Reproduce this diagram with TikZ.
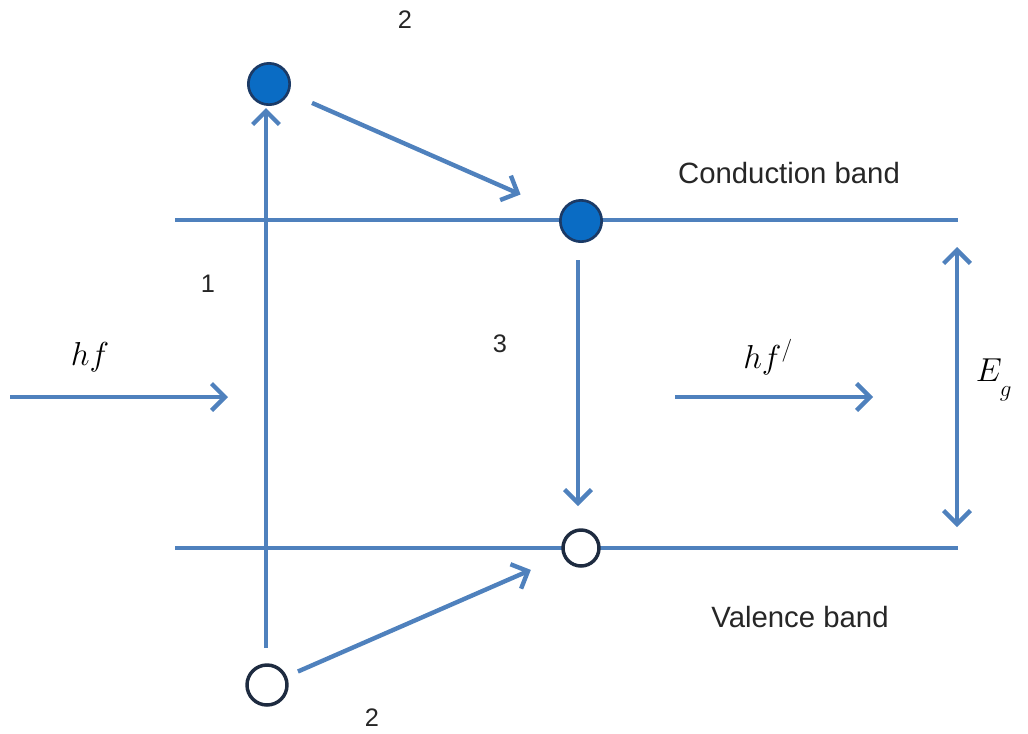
\documentclass[tikz,border=0pt]{standalone}
\usepackage{fontspec}
\setsansfont{Liberation Sans}
\usetikzlibrary{arrows.meta}
\definecolor{bandblue}{HTML}{4F81BD}
\definecolor{elecfill}{HTML}{0A6CC4}
\definecolor{elecedge}{HTML}{1B3A66}
\definecolor{holeedge}{HTML}{1E2B40}
\tikzset{
  band/.style={draw=bandblue, line width=3.3pt},
  arr/.style={draw=bandblue, line width=3.3pt, -{Straight Barb[length=10pt,width=20pt]}},
  darr/.style={draw=bandblue, line width=3.3pt, {Straight Barb[length=10pt,width=20pt]}-{Straight Barb[length=10pt,width=20pt]}},
  electron/.style={circle, minimum size=31pt, inner sep=0pt, fill=elecfill, draw=elecedge, line width=2pt},
  hole/.style={circle, minimum size=27pt, inner sep=0pt, fill=white, draw=holeedge, line width=2.6pt},
  lbl/.style={font=\sffamily\fontsize{19}{21}\selectfont, text=black!85},
  blbl/.style={font=\sffamily\fontsize{22}{24}\selectfont, text=black!85},
  mlbl/.style={font=\fontsize{25}{28}\selectfont, text=black}
}
\begin{document}
\begin{tikzpicture}[x=0.75pt, y=-0.75pt]
\useasboundingbox (0,0) rectangle (1028,733);
% bands
\coordinate (cbL) at (175,220);
\coordinate (cbR) at (958,220);
\coordinate (vbL) at (175,548);
\coordinate (vbR) at (958,548);
\draw[band] (cbL) -- (cbR);
\draw[band] (vbL) -- (vbR);
% particles
\node[electron] (eTop) at (269,84) {};
\node[electron] (eCB) at (581,221) {};
\node[hole] (hVB) at (581,548) {};
\node[hole, minimum size=30pt] (hBot) at (267,685) {};
% transitions
\coordinate (upS) at (266,648);
\coordinate (upE) at (266,108);
\draw[arr] (upS) -- (upE);
\draw[arr, shorten <=25pt*0.75, shorten >=44pt*0.75] (eTop) -- (eCB);
\draw[arr, shorten <=12pt*0.75, shorten >=35pt*0.75] (hBot) -- (hVB);
\coordinate (dnS) at (578,260);
\coordinate (dnE) at (578,506);
\draw[arr] (dnS) -- (dnE);
% photons
\coordinate (hfS) at (10,397);
\coordinate (hfE) at (228,397);
\draw[arr] (hfS) -- (hfE);
\coordinate (hf2S) at (675,397);
\coordinate (hf2E) at (873,397);
\draw[arr] (hf2S) -- (hf2E);
% gap
\coordinate (egT) at (957,247);
\coordinate (egB) at (957,527);
\draw[darr] (egT) -- (egB);
% labels
\node[lbl] (l2top) at (405,20) {2};
\node[lbl] (l1) at (208,284) {1};
\node[lbl] (l3) at (500,344) {3};
\node[lbl] (l2bot) at (372,718) {2};
\node[blbl] (lcb) at (789,173) {Conduction band};
\node[blbl] (lvb) at (800,617) {Valence band};
\node[mlbl] (lhf) at (90,357) {$hf$};
\node[mlbl] (lhf2) at (768,357) {$hf^{/}$};
\node[mlbl] (leg) at (994,380) {$E_{\raisebox{-0.7ex}{$\scriptstyle g$}}$};
\end{tikzpicture}
\end{document}
